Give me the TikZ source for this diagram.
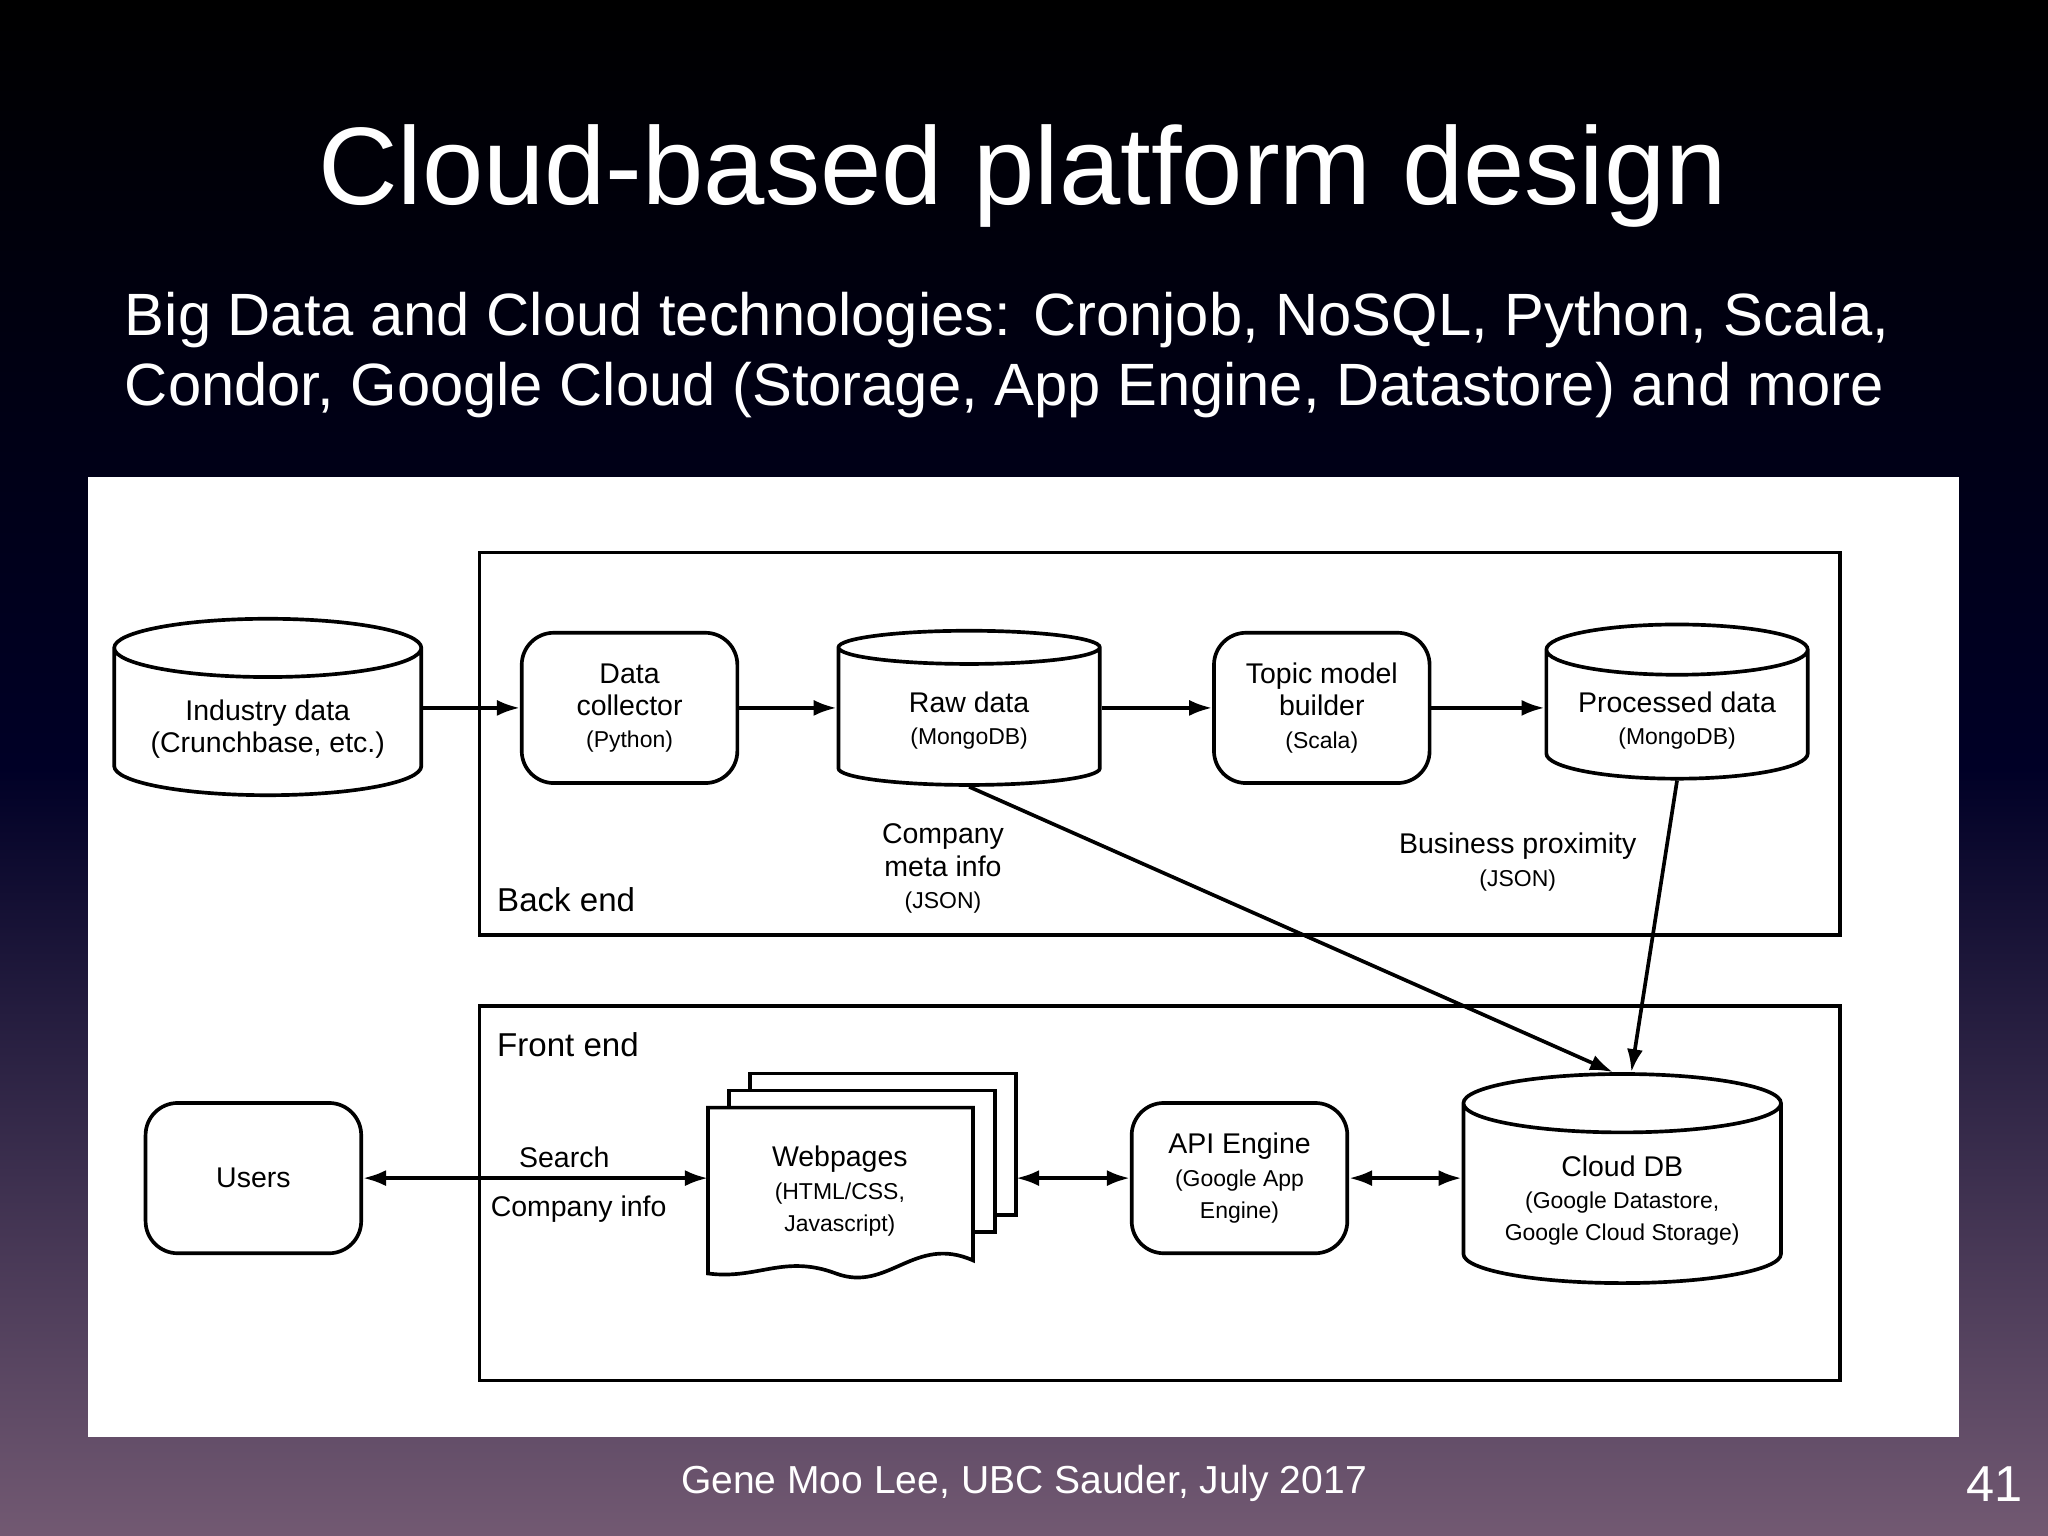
\documentclass[tikz,border=0pt]{standalone}
\usepackage{fontspec}
\setmainfont{Liberation Sans}
\usetikzlibrary{shapes.geometric,arrows.meta}

\newcommand{\subtxt}{\fontsize{5}{6}\selectfont}
\tikzset{
  box/.style={rectangle,rounded corners=7pt,draw,thick,align=center,minimum width=1.65cm,minimum height=1.15cm,font=\fontsize{6.2}{7}\selectfont},
  db/.style={cylinder,shape border rotate=90,draw,thick,align=center,aspect=0.22,font=\fontsize{6.2}{7}\selectfont},
  lbl/.style={align=center,font=\fontsize{6.2}{7}\selectfont},
  area/.style={draw,thick},
  link/.style={-{Latex[length=5pt,width=3.5pt]},thick},
  both/.style={{Latex[length=5pt,width=3.5pt]}-{Latex[length=5pt,width=3.5pt]},thick}
}

\begin{document}
\begin{tikzpicture}[x=0.01cm,y=-0.01cm]
\shade[top color=black,bottom color=black!35!violet!30!gray,middle color=black!85!blue]
  (0,0) rectangle (1568,1176);
\useasboundingbox (0,0) rectangle (1568,1176);

% texts on the slide
\node[white,font=\fontsize{24}{28}\selectfont] (title) at (783,135) {Cloud-based platform design};
\node[white,anchor=west,align=left,inner sep=0pt,font=\fontsize{13}{15.3}\selectfont] (subtitle) at (95,272)
  {Big Data and Cloud technologies: Cronjob, NoSQL, Python, Scala,\\Condor, Google Cloud (Storage, App Engine, Datastore) and more};
\node[white,font=\fontsize{8.5}{10}\selectfont] (footer) at (784,1136) {Gene Moo Lee, UBC Sauder, July 2017};
\node[white,font=\fontsize{11}{13}\selectfont] (page) at (1527,1136) {41};

\fill[white] (67,365) rectangle (1500,1100);
\draw[area] (367,423) rectangle (1409,716);
\draw[area] (367,770) rectangle (1409,1057);
\node[anchor=west,inner sep=0pt,font=\fontsize{7.2}{8}\selectfont] (back) at (380,689) {Back end};
\node[anchor=west,inner sep=0pt,font=\fontsize{7.2}{8}\selectfont] (front) at (380,800) {Front end};

% back end
\node[db,minimum width=2.35cm,minimum height=1.35cm] (industry) at (205,558) {Industry data\\(Crunchbase, etc.)};
\node[box] (collector) at (482,542) {Data\\collector\\{\subtxt (Python)}};
\node[db,minimum width=2cm,minimum height=1.18cm] (raw) at (742,552) {Raw data\\{\subtxt (MongoDB)}};
\node[box] (topic) at (1012,542) {Topic model\\builder\\{\subtxt (Scala)}};
\node[db,minimum width=2cm,minimum height=1.18cm] (processed) at (1284,552) {Processed data\\{\subtxt (MongoDB)}};

% front end
\node[box] (users) at (194,902) {Users};
\draw[thick,fill=white] (574,822) rectangle (778,930);
\draw[thick,fill=white] (558,835) rectangle (762,943);
\draw[thick,fill=white] (542,848) -- (745,848) -- (745,965)
  .. controls (700,945) and (680,990) .. (640,975)
  .. controls (600,960) and (580,980) .. (542,975) -- cycle;
\node[lbl] (web) at (643,912) {Webpages\\{\subtxt (HTML/CSS,}\\{\subtxt Javascript)}};
\coordinate (webl) at (542,902);
\coordinate (webr) at (778,902);
\node[box] (api) at (949,902) {API Engine\\{\subtxt (Google App}\\{\subtxt Engine)}};
\node[db,minimum width=2.43cm,minimum height=1.6cm] (cloud) at (1242,919) {Cloud DB\\{\subtxt (Google Datastore,}\\{\subtxt Google Cloud Storage)}};

% connectors
\draw[link] (industry.east |- collector) -- (collector);
\draw[link] (collector) -- (raw.west |- collector);
\draw[link] (raw.east |- topic) -- (topic);
\draw[link] (topic) -- (processed.west |- topic);
\draw[link] (raw.bottom) -- ([xshift=-2]cloud.top);
\draw[link] (processed.bottom) -- ([xshift=2]cloud.top);
\draw[both] (users) -- (webl);
\draw[both] (webr) -- (api);
\draw[both] (api) -- (cloud.west |- api);

\node[lbl] (meta) at (722,665) {Company\\meta info\\{\subtxt (JSON)}};
\node[lbl] (prox) at (1162,660) {Business proximity\\{\subtxt (JSON)}};
\node[lbl] (search) at (432,886) {Search};
\node[lbl] (info) at (443,926) {Company info};
\end{tikzpicture}
\end{document}
